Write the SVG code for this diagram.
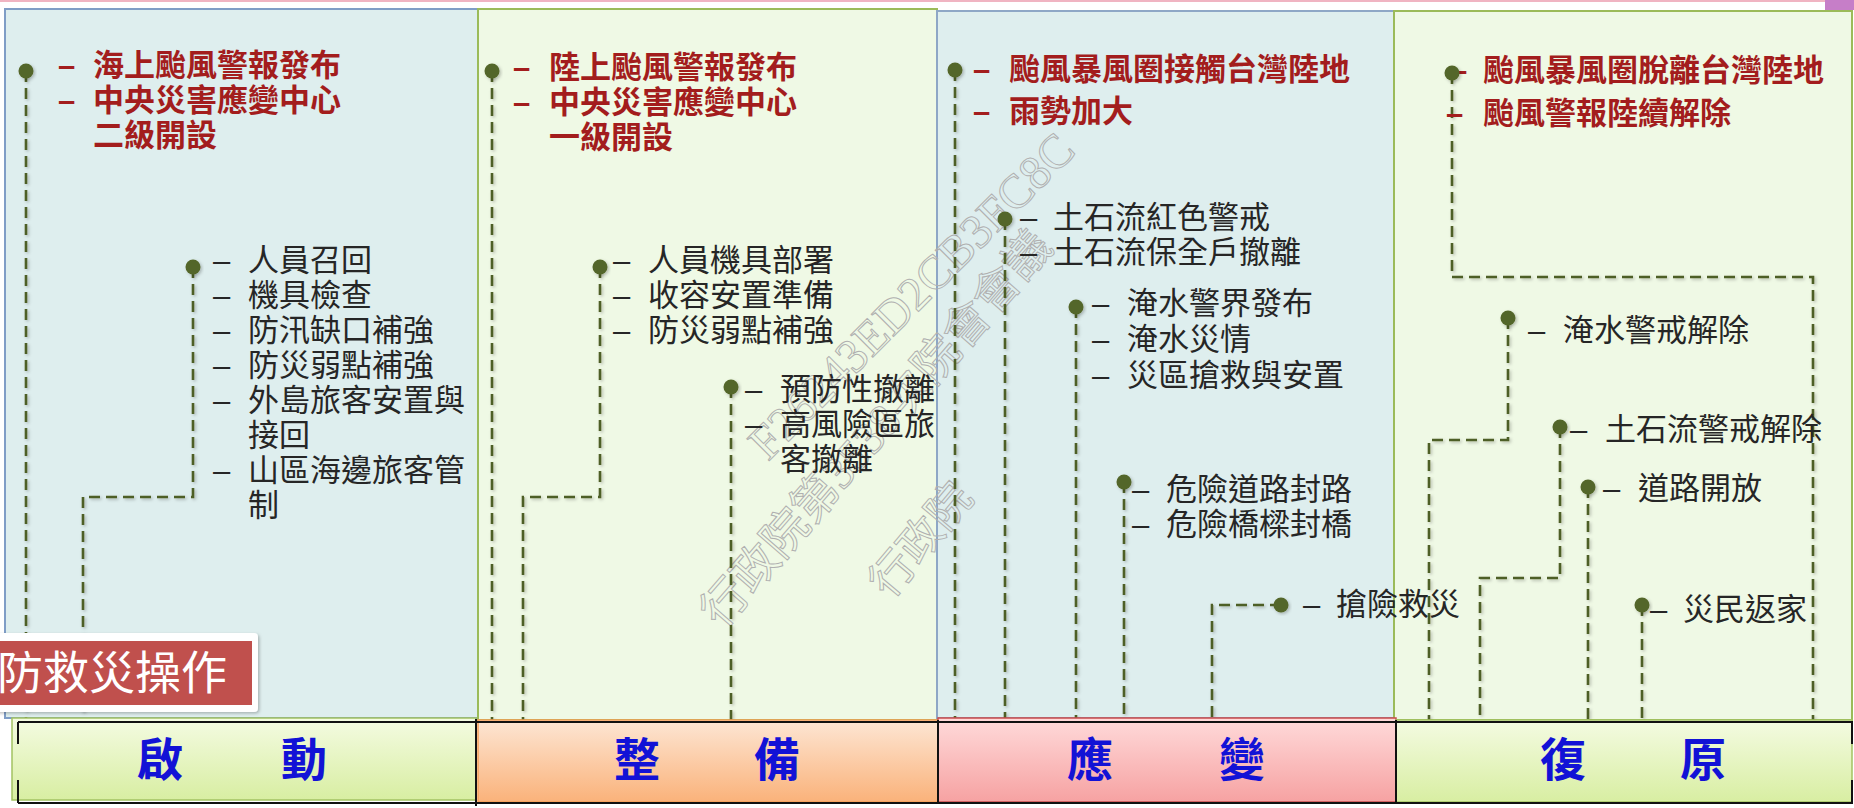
<svg xmlns="http://www.w3.org/2000/svg" width="1854" height="808" viewBox="0 0 1854 808">
<defs>
<style>
.red{font-family:"Liberation Sans","Noto Sans CJK TC",sans-serif;font-size:31px;font-weight:bold;fill:#a31d1d}
.blk{font-family:"Liberation Sans","Noto Sans CJK TC",sans-serif;font-size:31px;fill:#262626}
.bar{font-family:"Noto Sans CJK TC",sans-serif;font-size:46px;font-weight:bold;fill:#1212d6;text-anchor:middle}
.conn{fill:none;stroke:#4d5f26;stroke-width:2.6;stroke-dasharray:11 6}
.dot{fill:#536629}
.wm{font-family:"Liberation Serif","Noto Sans CJK TC",serif;fill:none;stroke:#b0b0b0;stroke-width:1}
.lbl{font-family:"Noto Sans CJK TC",sans-serif;font-size:46px;fill:#ffffff}
</style>
<linearGradient id="gGreen" x1="0" y1="0" x2="0" y2="1"><stop offset="0" stop-color="#f4fbe2"/><stop offset="1" stop-color="#d8eea2"/></linearGradient>
<linearGradient id="gOrange" x1="0" y1="0" x2="0" y2="1"><stop offset="0" stop-color="#fde6d4"/><stop offset="1" stop-color="#fab27a"/></linearGradient>
<linearGradient id="gRed" x1="0" y1="0" x2="0" y2="1"><stop offset="0" stop-color="#ffdada"/><stop offset="1" stop-color="#f6a2a2"/></linearGradient>
<filter id="sh" x="-20%" y="-20%" width="140%" height="140%"><feDropShadow dx="1.5" dy="1.5" stdDeviation="1.5" flood-color="#000" flood-opacity="0.25"/></filter>
</defs>
<rect x="0" y="0" width="1854" height="808" fill="#ffffff"/>
<rect x="0" y="0" width="1825" height="2" fill="#f0b4c2"/>
<rect x="1825" y="0" width="29" height="10" fill="#c67ec8"/>

<!-- panels -->
<g id="panel-1"><rect x="5" y="9" width="473" height="709" fill="#deeeee" stroke="#7f9dc6" stroke-width="2"/></g>
<g id="panel-2"><rect x="478" y="9" width="459" height="711" fill="#eff9e5" stroke="#9bbb59" stroke-width="2"/></g>
<g id="panel-3"><rect x="937" y="11" width="457" height="707" fill="#deeeee" stroke="#8ea7c6" stroke-width="2"/></g>
<g id="panel-4"><rect x="1394" y="11" width="458" height="709" fill="#eff9e5" stroke="#9bbb59" stroke-width="2"/></g>

<!-- watermark -->
<g id="watermark">
<text class="wm" font-size="48" transform="translate(768,462) rotate(-45)">F26243ED2CB3FC8C</text>
<text class="wm" font-size="46" transform="translate(722,630) rotate(-49)">行政院第3538次院會會議</text>
<text class="wm" font-size="44" transform="translate(890,600) rotate(-50)">行政院</text>
</g>

<!-- connectors -->
<g id="connectors" filter="url(#sh)">
<path class="conn" d="M26,71 V718"/>
<path class="conn" d="M193,267 V497 H83 V718"/>
<path class="conn" d="M492,71 V720"/>
<path class="conn" d="M600,267 V497 H523 V720"/>
<path class="conn" d="M731,387 V720"/>
<path class="conn" d="M955,70 V718"/>
<path class="conn" d="M1005,219 V718"/>
<path class="conn" d="M1076,307 V718"/>
<path class="conn" d="M1124,482 V718"/>
<path class="conn" d="M1281,605 H1212 V718"/>
<path class="conn" d="M1452,73 V277 H1813 V720"/>
<path class="conn" d="M1508,318 V440 H1429 V720"/>
<path class="conn" d="M1560,427 V578 H1480 V720"/>
<path class="conn" d="M1588,487 V720"/>
<path class="conn" d="M1642,605 V720"/>
</g>

<!-- nodes -->
<g id="n-p1-1">
<text class="red" y="76"><tspan x="58">–</tspan><tspan x="93">海上颱風警報發布</tspan></text>
<text class="red" y="111"><tspan x="58">–</tspan><tspan x="93">中央災害應變中心</tspan></text>
<text class="red" x="93" y="146">二級開設</text>
<circle class="dot" cx="26" cy="71" r="7.5" filter="url(#sh)"/>
</g>
<g id="n-p1-2">
<text class="blk" y="271"><tspan x="213">–</tspan><tspan x="248">人員召回</tspan></text>
<text class="blk" y="306"><tspan x="213">–</tspan><tspan x="248">機具檢查</tspan></text>
<text class="blk" y="341"><tspan x="213">–</tspan><tspan x="248">防汛缺口補強</tspan></text>
<text class="blk" y="376"><tspan x="213">–</tspan><tspan x="248">防災弱點補強</tspan></text>
<text class="blk" y="411"><tspan x="213">–</tspan><tspan x="248">外島旅客安置與</tspan></text>
<text class="blk" x="248" y="446">接回</text>
<text class="blk" y="481"><tspan x="213">–</tspan><tspan x="248">山區海邊旅客管</tspan></text>
<text class="blk" x="248" y="516">制</text>
<circle class="dot" cx="193" cy="267" r="7.5" filter="url(#sh)"/>
</g>
<g id="n-p2-1">
<text class="red" y="78"><tspan x="513">–</tspan><tspan x="549">陸上颱風警報發布</tspan></text>
<text class="red" y="113"><tspan x="513">–</tspan><tspan x="549">中央災害應變中心</tspan></text>
<text class="red" x="549" y="148">一級開設</text>
<circle class="dot" cx="492" cy="71" r="7.5" filter="url(#sh)"/>
</g>
<g id="n-p2-2">
<text class="blk" y="271"><tspan x="613">–</tspan><tspan x="648">人員機具部署</tspan></text>
<text class="blk" y="306"><tspan x="613">–</tspan><tspan x="648">收容安置準備</tspan></text>
<text class="blk" y="341"><tspan x="613">–</tspan><tspan x="648">防災弱點補強</tspan></text>
<circle class="dot" cx="600" cy="267" r="7.5" filter="url(#sh)"/>
</g>
<g id="n-p2-3">
<text class="blk" y="400"><tspan x="745">–</tspan><tspan x="780">預防性撤離</tspan></text>
<text class="blk" y="435"><tspan x="745">–</tspan><tspan x="780">高風險區旅</tspan></text>
<text class="blk" x="780" y="470">客撤離</text>
<circle class="dot" cx="731" cy="387" r="7.5" filter="url(#sh)"/>
</g>
<g id="n-p3-1">
<text class="red" y="80"><tspan x="973">–</tspan><tspan x="1009">颱風暴風圈接觸台灣陸地</tspan></text>
<text class="red" y="122"><tspan x="973">–</tspan><tspan x="1009">雨勢加大</tspan></text>
<circle class="dot" cx="955" cy="70" r="7.5" filter="url(#sh)"/>
</g>
<g id="n-p3-2">
<text class="blk" y="228"><tspan x="1020">–</tspan><tspan x="1053">土石流紅色警戒</tspan></text>
<text class="blk" y="263"><tspan x="1020">–</tspan><tspan x="1053">土石流保全戶撤離</tspan></text>
<circle class="dot" cx="1005" cy="219" r="7.5" filter="url(#sh)"/>
</g>
<g id="n-p3-3">
<text class="blk" y="314"><tspan x="1092">–</tspan><tspan x="1127">淹水警界發布</tspan></text>
<text class="blk" y="350"><tspan x="1092">–</tspan><tspan x="1127">淹水災情</tspan></text>
<text class="blk" y="386"><tspan x="1092">–</tspan><tspan x="1127">災區搶救與安置</tspan></text>
<circle class="dot" cx="1076" cy="307" r="7.5" filter="url(#sh)"/>
</g>
<g id="n-p3-4">
<text class="blk" y="500"><tspan x="1132">–</tspan><tspan x="1166">危險道路封路</tspan></text>
<text class="blk" y="535"><tspan x="1132">–</tspan><tspan x="1166">危險橋樑封橋</tspan></text>
<circle class="dot" cx="1124" cy="482" r="7.5" filter="url(#sh)"/>
</g>
<g id="n-p3-5">
<text class="blk" y="615"><tspan x="1303">–</tspan><tspan x="1336">搶險救災</tspan></text>
<circle class="dot" cx="1281" cy="605" r="7.5" filter="url(#sh)"/>
</g>
<g id="n-p4-1">
<text class="red" y="81"><tspan x="1450">–</tspan><tspan x="1483">颱風暴風圈脫離台灣陸地</tspan></text>
<text class="red" y="124"><tspan x="1446">–</tspan><tspan x="1483">颱風警報陸續解除</tspan></text>
<circle class="dot" cx="1452" cy="73" r="7.5" filter="url(#sh)"/>
</g>
<g id="n-p4-2">
<text class="blk" y="341"><tspan x="1528">–</tspan><tspan x="1563">淹水警戒解除</tspan></text>
<circle class="dot" cx="1508" cy="318" r="7.5" filter="url(#sh)"/>
</g>
<g id="n-p4-3">
<text class="blk" y="440"><tspan x="1570">–</tspan><tspan x="1605">土石流警戒解除</tspan></text>
<circle class="dot" cx="1560" cy="427" r="7.5" filter="url(#sh)"/>
</g>
<g id="n-p4-4">
<text class="blk" y="499"><tspan x="1603">–</tspan><tspan x="1638">道路開放</tspan></text>
<circle class="dot" cx="1588" cy="487" r="7.5" filter="url(#sh)"/>
</g>
<g id="n-p4-5">
<text class="blk" y="620"><tspan x="1650">–</tspan><tspan x="1683">災民返家</tspan></text>
<circle class="dot" cx="1642" cy="605" r="7.5" filter="url(#sh)"/>
</g>

<!-- label -->
<g id="label-ops">
<rect x="-6" y="633" width="264" height="79" rx="4" fill="#ffffff" filter="url(#sh)"/>
<rect x="0" y="641" width="252" height="64" fill="#c0504d"/>
<text class="lbl" x="-3" y="689">防救災操作</text>
</g>

<!-- phase bars -->
<g id="bar-1"><rect x="12" y="718" width="464" height="82" fill="url(#gGreen)" stroke="#a3c262" stroke-width="1.5"/>
<text class="bar" x="160" y="776">啟</text><text class="bar" x="304" y="776">動</text></g>
<g id="bar-2"><rect x="478" y="720" width="460" height="82" fill="url(#gOrange)" stroke="#f59d56" stroke-width="1.5"/>
<text class="bar" x="637" y="776">整</text><text class="bar" x="777" y="776">備</text></g>
<g id="bar-3"><rect x="938" y="718" width="458" height="84" fill="url(#gRed)" stroke="#c94b4b" stroke-width="1.5"/>
<text class="bar" x="1090" y="776">應</text><text class="bar" x="1242" y="776">變</text></g>
<g id="bar-4"><rect x="1396" y="720" width="456" height="82" fill="url(#gGreen)" stroke="#a3c262" stroke-width="1.5"/>
<text class="bar" x="1563" y="776">復</text><text class="bar" x="1703" y="776">原</text></g>
<g id="bar-frame" fill="none" stroke="#111" stroke-width="2">
<path d="M18,722 H1853 M18,803 H1853 M476,719 V806 M938,720 V803 M1396,720 V803 M18,722 V744 M18,780 V803 M1852,722 V744 M1852,780 V803"/>
</g>
</svg>
